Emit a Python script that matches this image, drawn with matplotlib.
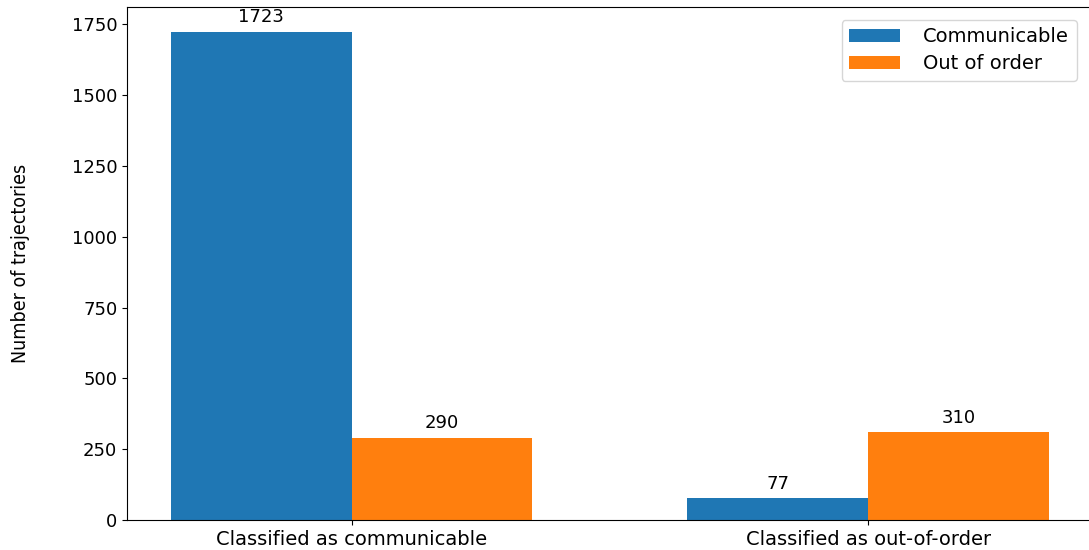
import numpy as np
import matplotlib
matplotlib.use("Agg")
import matplotlib.pyplot as plt

# data
groups = ['Classified as communicable', 'Classified as out-of-order']
communicable = [1723, 77]
out_of_order = [290, 310]
series_names = ['Communicable', 'Out of order']

fig = plt.figure(figsize=(10.89, 5.50), dpi=100)
ax = fig.add_axes([0.1166, 0.0545, 0.8870, 0.932])

x = np.arange(len(groups))
width = 0.35
b1 = ax.bar(x - width / 2, communicable, width, label=series_names[0], color='#1f77b4')
b2 = ax.bar(x + width / 2, out_of_order, width, label=series_names[1], color='#ff7f0e')

ax.bar_label(b1, padding=4, fontsize=13)
ax.bar_label(b2, padding=4, fontsize=13)

ax.set_xticks(x)
ax.set_xticklabels(groups, fontsize=14)
ax.tick_params(axis='y', labelsize=13)
ax.set_ylabel('Number of trajectories', fontsize=14, fontstretch='condensed')
ax.yaxis.set_label_coords(-0.10, 0.5)

ax.legend(fontsize=14, loc='upper right', bbox_to_anchor=(0.9935, 0.995),
          handlelength=2.6, handletextpad=1.2, labelspacing=0.4)

fig.savefig('out.png', dpi=100)
